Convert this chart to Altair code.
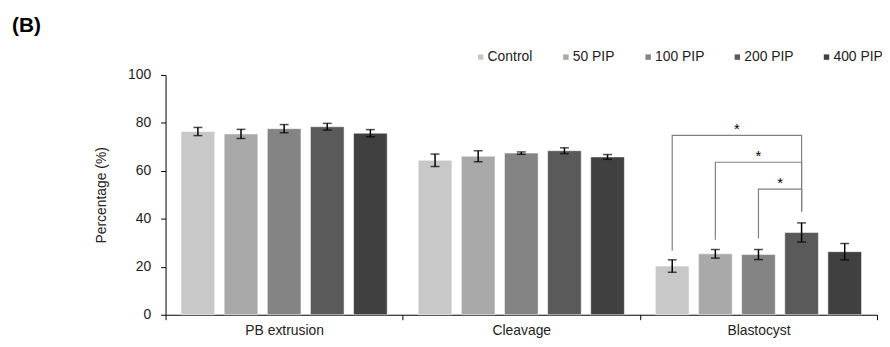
import altair as alt
import pandas as pd

groups = ["PB extrusion", "Cleavage", "Blastocyst"]
series = ["Control", "50 PIP", "100 PIP", "200 PIP", "400 PIP"]
colors = ["#c8c8c8", "#a9a9a9", "#848484", "#5a5a5a", "#404040"]

means_pb = [76.4, 75.4, 77.6, 78.4, 75.7]
means_cl = [64.4, 66.1, 67.4, 68.4, 65.8]
means_bl = [20.3, 25.4, 25.1, 34.3, 26.3]
errs_pb = [1.7, 1.9, 1.7, 1.4, 1.5]
errs_cl = [2.6, 2.3, 0.5, 1.2, 1.0]
errs_bl = [2.6, 1.8, 2.1, 4.0, 3.4]

# significance brackets (all in Blastocyst group, to 200 PIP)
br_group = "Blastocyst"
br_from = ["Control", "50 PIP", "100 PIP"]
br_to = "200 PIP"
br_top = [74.8, 63.6, 52.4]
br_left_bottom = [26.7, 31.3, 31.8]
br_right_bottom = 43.0
br_label = ["*", "*", "*"]

rows = []
for g, ms, es in zip(groups, [means_pb, means_cl, means_bl], [errs_pb, errs_cl, errs_bl]):
    for s, m, e in zip(series, ms, es):
        rows.append({"group": g, "series": s, "mean": m, "lo": m - e, "hi": m + e})
df = pd.DataFrame(rows)

# quantitative slot coordinates aligned with the band/offset scales
STEPS = 5.5  # 5 - paddingInner + 2*paddingOuter


def slot(g, s):
    return groups.index(g) * STEPS + series.index(s) + 0.75


br_rows = []
star_rows = []
for b, (f, top, lb, lab) in enumerate(zip(br_from, br_top, br_left_bottom, br_label)):
    pts = [(slot(br_group, f), lb), (slot(br_group, f), top),
           (slot(br_group, br_to), top), (slot(br_group, br_to), br_right_bottom)]
    for k, (px, py) in enumerate(pts):
        br_rows.append({"bracket": b, "k": k, "pos": px, "y": py})
    star_rows.append({"pos": (slot(br_group, f) + slot(br_group, br_to)) / 2, "y": top, "label": lab})
br_df = pd.DataFrame(br_rows)
star_df = pd.DataFrame(star_rows)

YT = "Percentage (%)"
yscale = alt.Scale(domain=[0, 100], nice=False)

base = alt.Chart(df).encode(
    x=alt.X("group:N", sort=groups,
            scale=alt.Scale(paddingInner=0, paddingOuter=0),
            axis=alt.Axis(title=None, tickBand="extent", labelAngle=0, tickSize=5,
                          labelPadding=4, domainColor="black", tickColor="black")),
    xOffset=alt.XOffset("series:N", sort=series,
                        scale=alt.Scale(paddingInner=0.22, paddingOuter=0.36)),
)

bars = base.mark_bar(stroke="white", strokeWidth=0.5).encode(
    y=alt.Y("mean:Q", scale=yscale, title=YT,
            axis=alt.Axis(values=[0, 20, 40, 60, 80, 100], grid=False, tickSize=5,
                          labelPadding=10, titlePadding=19, domainColor="black",
                          tickColor="black")),
    color=alt.Color("series:N", sort=series,
                    scale=alt.Scale(domain=series, range=colors),
                    legend=alt.Legend(title=None, orient="none", direction="horizontal",
                                      legendX=311, legendY=-25, symbolType="square",
                                      symbolSize=30, symbolStrokeWidth=0,
                                      labelFontSize=14, labelFont="Liberation Sans",
                                      labelColor="#222", columnPadding=26, labelOffset=0,
                                      padding=0)),
)
err = base.mark_rule(color="black", strokeWidth=1.5).encode(
    y=alt.Y("lo:Q", scale=yscale, title=YT), y2="hi:Q")
cap_lo = base.mark_tick(color="black", size=9, thickness=1.5).encode(
    y=alt.Y("lo:Q", scale=yscale, title=YT))
cap_hi = base.mark_tick(color="black", size=9, thickness=1.5).encode(
    y=alt.Y("hi:Q", scale=yscale, title=YT))

bar_layer = alt.layer(bars, err, cap_lo, cap_hi)

xq = alt.X("pos:Q", scale=alt.Scale(domain=[0, 3 * STEPS], nice=False, zero=False), axis=None)
brackets = alt.Chart(br_df).mark_line(color="#808080", strokeWidth=1.2).encode(
    x=xq, y=alt.Y("y:Q", scale=yscale, title=YT), detail="bracket:N", order="k:Q")
stars = alt.Chart(star_df).mark_text(fontSize=15, font="Liberation Sans", dy=-1,
                                     baseline="alphabetic", color="black").encode(
    x=xq, y=alt.Y("y:Q", scale=yscale, title=YT), text="label:N")
ann_layer = alt.layer(brackets, stars)

chart = alt.layer(bar_layer, ann_layer).resolve_scale(
    x="independent"
).properties(
    width=718, height=242,
    autosize=alt.AutoSizeParams(type="none"),
    padding={"left": 159, "top": 66, "right": 5, "bottom": 30},
    title=alt.TitleParams("(B)", anchor="start", frame="group", dx=-155, dy=-10,
                          fontSize=21, fontWeight="bold", font="Liberation Sans",
                          color="black"),
).configure_view(stroke=None).configure_axis(
    labelFont="Liberation Sans", labelFontSize=14, labelColor="#222",
    titleFont="Liberation Sans", titleFontSize=14, titleFontWeight="normal",
    titleColor="#222",
)

chart.save("out.html", embed_options={"renderer": "svg", "actions": False})
